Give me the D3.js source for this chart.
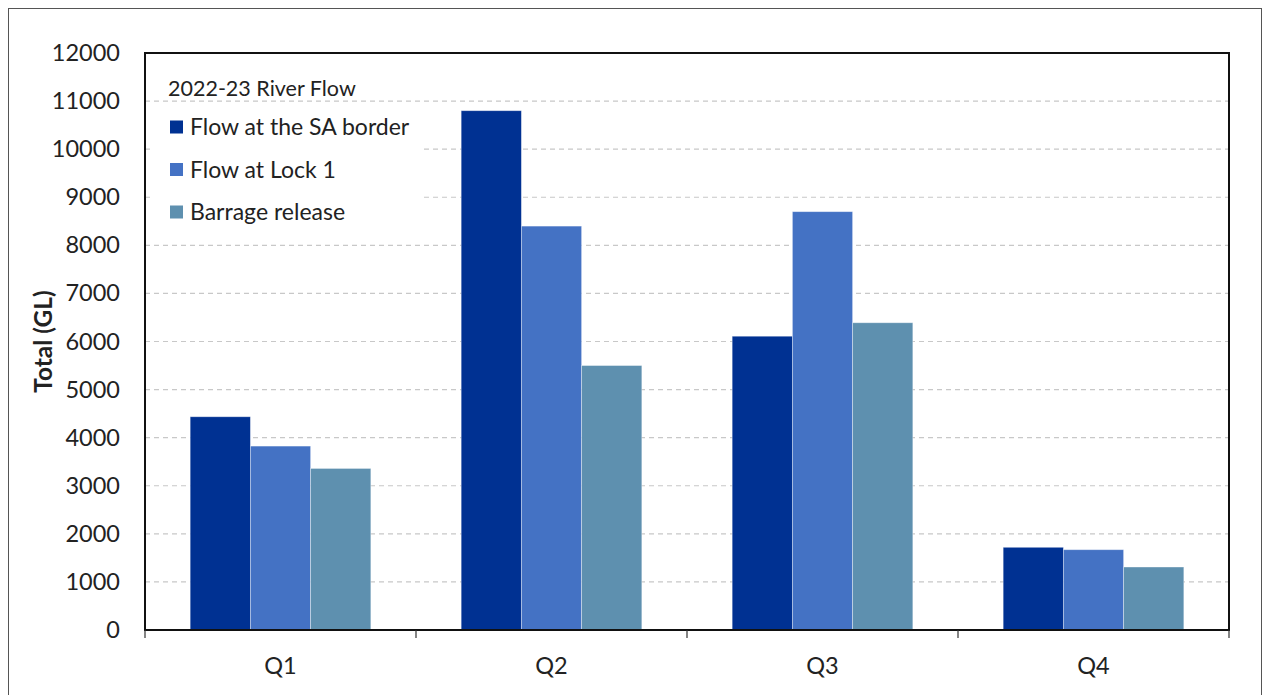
<!DOCTYPE html>
<html>
<head>
<meta charset="utf-8">
<script src="https://cdn.jsdelivr.net/npm/d3@7"></script>
<style>
  body { margin: 0; background: #fff; }
  svg { display: block; font-family: Lato, "Open Sans", sans-serif; }
</style>
</head>
<body>
<script>
// data
const quarters = ["Q1", "Q2", "Q3", "Q4"];
const seriesNames = ["Flow at the SA border", "Flow at Lock 1", "Barrage release"];
const saBorder = [4435, 10800, 6110, 1720];
const lock1 = [3825, 8400, 8700, 1670];
const barrage = [3360, 5500, 6390, 1310];
const colours = ["#003192", "#4472c4", "#5e90af"];
const yTicks = [0, 1000, 2000, 3000, 4000, 5000, 6000, 7000, 8000, 9000, 10000, 11000, 12000];
const legendTitle = "2022-23 River Flow";

const W = 1264, H = 695;
const plotL = 145, plotR = 1229, plotT = 53, plotB = 630;

const svg = d3.select("body").append("svg")
  .attr("width", W).attr("height", H);

// outer frame
svg.append("rect")
  .attr("x", 8.5).attr("y", 8.5)
  .attr("width", 1253).attr("height", 700)
  .attr("fill", "none").attr("stroke", "#555").attr("stroke-width", 1);

const x0 = d3.scaleBand().domain(quarters).range([plotL, plotR]).paddingInner(0).paddingOuter(0);
const x1 = d3.scaleBand().domain(seriesNames).range([0, x0.bandwidth()]).paddingInner(0).paddingOuter(0.75);
const y = d3.scaleLinear().domain([0, 12000]).range([plotB, plotT]);

// gridlines
svg.append("g").selectAll("line")
  .data(yTicks.filter(t => t > 0 && t < 12000))
  .enter().append("line")
  .attr("x1", plotL).attr("x2", plotR)
  .attr("y1", d => y(d)).attr("y2", d => y(d))
  .attr("stroke", "#c8c8c8").attr("stroke-width", 1.2)
  .attr("stroke-dasharray", "5,4");

// legend box background hides the grid behind it
svg.append("rect")
  .attr("x", 150).attr("y", 106).attr("width", 272).attr("height", 130)
  .attr("fill", "#fff");

svg.append("text")
  .attr("x", 168).attr("y", 96)
  .attr("font-size", 21.5).attr("fill", "#222")
  .text(legendTitle);

// bars
const allSeries = [saBorder, lock1, barrage];
const groups = svg.append("g").selectAll("g")
  .data(quarters)
  .enter().append("g")
  .attr("transform", d => `translate(${x0(d)},0)`);

groups.selectAll("rect")
  .data((q, qi) => seriesNames.map((s, si) => ({ s: s, si: si, v: allSeries[si][qi] })))
  .enter().append("rect")
  .attr("x", d => x1(d.s))
  .attr("width", x1.bandwidth())
  .attr("y", d => y(d.v))
  .attr("height", d => y(0) - y(d.v))
  .attr("fill", d => colours[d.si])
  .attr("stroke", "rgba(255,255,255,0.45)").attr("stroke-width", 0.8);

// plot frame
svg.append("rect")
  .attr("x", plotL).attr("y", plotT)
  .attr("width", plotR - plotL).attr("height", plotB - plotT)
  .attr("fill", "none").attr("stroke", "#111").attr("stroke-width", 2);

// y axis labels
const yAxis = d3.axisLeft(y).tickValues(yTicks).tickSize(0).tickPadding(25).tickFormat(d3.format("d"));
const gy = svg.append("g").attr("transform", `translate(${plotL},0)`).call(yAxis);
gy.select(".domain").remove();
gy.selectAll("text").attr("font-size", 23.5).attr("fill", "#222").attr("font-family", "Lato, sans-serif");

// x axis with ticks at category boundaries
const gx = svg.append("g").attr("transform", `translate(0,${plotB})`);
gx.selectAll("line")
  .data(quarters.concat(["end"]))
  .enter().append("line")
  .attr("x1", (d, i) => i < quarters.length ? x0(d) : plotR)
  .attr("x2", (d, i) => i < quarters.length ? x0(d) : plotR)
  .attr("y1", 0).attr("y2", 8)
  .attr("stroke", "#333").attr("stroke-width", 1.2);
gx.selectAll("text")
  .data(quarters)
  .enter().append("text")
  .attr("x", d => x0(d) + x0.bandwidth() / 2)
  .attr("y", 44)
  .attr("text-anchor", "middle")
  .attr("font-size", 23.5).attr("fill", "#222")
  .text(d => d);

// y axis title
svg.append("text")
  .attr("transform", `translate(52,${(plotT + plotB) / 2}) rotate(-90)`)
  .attr("text-anchor", "middle")
  .attr("font-size", 24.5).attr("font-weight", "bold").attr("fill", "#222")
  .text("Total (GL)");

// legend entries
const leg = svg.append("g").selectAll("g")
  .data(seriesNames)
  .enter().append("g")
  .attr("transform", (d, i) => `translate(170,${127 + i * 42.5})`);
leg.append("rect")
  .attr("x", 0).attr("y", -6.5).attr("width", 13).attr("height", 13)
  .attr("fill", (d, i) => colours[i]);
leg.append("text")
  .attr("x", 20).attr("y", 8)
  .attr("font-size", 23).attr("fill", "#222")
  .text(d => d);
</script>
</body>
</html>
